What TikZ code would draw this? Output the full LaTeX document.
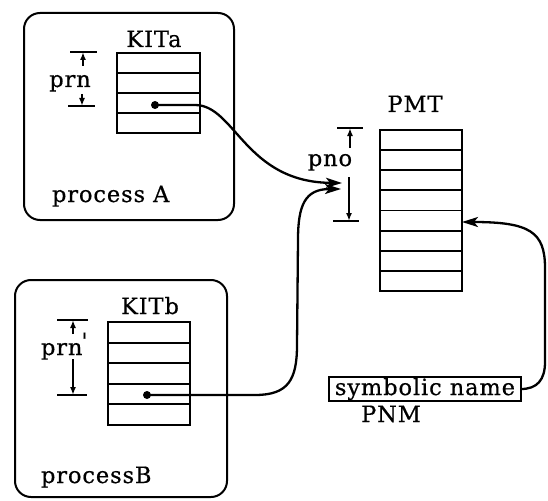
\documentclass[tikz,border=0pt]{standalone}
\usepackage{fontspec}
\newfontfamily\lblfont{DejaVu Serif}[LetterSpace=4,FakeBold=0.6]
\usetikzlibrary{arrows.meta}
\begin{document}
\begin{tikzpicture}[x=1pt,y=-1pt,
  lbl/.style={font=\lblfont\fontsize{22.5}{26}\selectfont, inner sep=0pt, outer sep=0pt},
  procbox/.style={draw, line width=2pt, rounded corners=16pt, inner sep=0pt, outer sep=0pt},
  tbl/.style={draw, line width=2.2pt, inner sep=0pt, outer sep=0pt},
  row/.style={line width=1.9pt},
  conn/.style={line width=2.3pt, -{Stealth[length=16pt,width=10pt,inset=4pt]}},
  dim/.style={line width=1.9pt},
  dimarr/.style={line width=1.8pt, -{Latex[length=8pt,width=6pt]}},
  dot/.style={circle, fill, inner sep=0pt, minimum size=8pt},
]
\useasboundingbox (0,0) rectangle (548,500);

% process boxes
\node[procbox, minimum width=210pt, minimum height=207pt] (procA) at (129,116.5) {};
\node[procbox, minimum width=212pt, minimum height=217pt] (procB) at (121,388.5) {};
\node[lbl, anchor=base west] (procAlbl) at (52,202) {process A};
\node[lbl, anchor=base west] (procBlbl) at (41,483) {processB};

% KITa
\node[tbl, minimum width=83pt, minimum height=80pt] (kitA) at (158.5,93) {};
\foreach \i in {1,2,3} \draw[row] (kitA.north west) ++(0,20*\i) -- ++(83,0);
\node[lbl, anchor=base] (kitAlbl) at (154,47) {KITa};

% KITb
\node[tbl, minimum width=82pt, minimum height=103pt] (kitB) at (149,373.5) {};
\foreach \i in {1,2,3,4} \draw[row] (kitB.north west) ++(0,20.6*\i) -- ++(82,0);
\node[lbl, anchor=base] (kitBlbl) at (150,314) {KITb};

% PMT
\node[tbl, minimum width=82pt, minimum height=161pt] (pmt) at (421,210.5) {};
\foreach \i in {1,...,7} \draw[row] (pmt.north west) ++(0,20.125*\i) -- ++(82,0);
\node[lbl, anchor=base] (pmtlbl) at (415,112) {PMT};

% symbolic name / PNM
\node[lbl, draw, line width=1.8pt, minimum width=192pt, minimum height=24pt] (symb) at (425,389) {symbolic name};
\node[lbl, anchor=base] (pnm) at (391,422) {PNM};

% dimension prn (A)
\coordinate (pAt) at (83,52);
\coordinate (pAb) at (82,106);
\draw[dim] (70,52) -- (97,52);
\draw[dim] (68,106) -- (95,106);
\draw[dimarr] (83,66) -- (pAt);
\draw[dimarr] (82,94) -- (pAb);
\node[lbl, anchor=base] (prnA) at (70,87) {prn};

% dimension prn' (B)
\coordinate (pBt) at (73,320);
\coordinate (pBb) at (73,395);
\draw[dim] (57,320) -- (88,320);
\draw[dim] (57,395) -- (87,395);
\draw[dimarr] (73,334) -- (pBt);
\draw[dimarr] (73,359) -- (pBb);
\node[lbl, anchor=base west] (prnB) at (41,355) {prn\hspace{-1pt}\raisebox{6pt}{'}};

% dimension pno
\coordinate (pnoT) at (350,128);
\coordinate (pnoB) at (349,221);
\draw[dim] (337,128) -- (363,128);
\draw[dim] (333,221) -- (359,221);
\draw[dimarr] (350,148) -- (pnoT);
\draw[dimarr] (349,177) -- (pnoB);
\node[lbl, anchor=base] (pno) at (330,166) {pno};

% dots and targets
\node[dot] (dotA) at (155,105) {};
\node[dot] (dotB) at (147,395) {};
\coordinate (tipA) at (342,183);
\coordinate (tipB) at (341,189);
\coordinate (tipR) at (pmt.east |- 0,222);

% connectors
\draw[conn] (dotA.center) -- (195,105) .. controls (235,105) and (245,182) .. (tipA);
\draw[conn] (dotB.center) -- (255,395) .. controls (288,395) and (297,380) .. (297,345)
  -- (298,240) .. controls (298,205) and (305,189) .. (tipB);
\draw[conn] (symb.east) .. controls (537,389) and (545,380) .. (545,362)
  -- (545,268) .. controls (545,232) and (530,222) .. (tipR);
\end{tikzpicture}
\end{document}
